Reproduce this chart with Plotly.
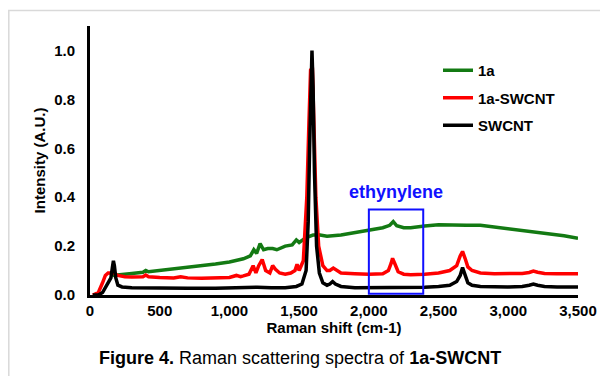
import plotly.graph_objects as go

# ---------------- data ----------------
swcnt_x = [20, 60, 90, 110, 130, 150, 160, 168, 175, 185, 200, 230, 300, 500, 700, 900, 1000, 1100,
           1200, 1300, 1400, 1480, 1520, 1550, 1565, 1575, 1585, 1592, 1600, 1610, 1625, 1645, 1670,
           1700, 1720, 1740, 1760, 1800, 1900, 2000, 2200, 2400, 2500, 2580, 2630, 2655, 2672, 2690,
           2710, 2740, 2800, 3000, 3100, 3150, 3180, 3210, 3260, 3350, 3500]
swcnt_y = [0.0, 0.0, 0.01, 0.03, 0.045, 0.07, 0.11, 0.14, 0.12, 0.07, 0.04, 0.033, 0.03, 0.028, 0.028,
           0.028, 0.03, 0.03, 0.032, 0.03, 0.03, 0.035, 0.045, 0.10, 0.3, 0.6, 0.9, 1.0, 0.85, 0.5, 0.2,
           0.09, 0.05, 0.04, 0.045, 0.055, 0.045, 0.035, 0.03, 0.03, 0.03, 0.032, 0.035, 0.04, 0.055,
           0.08, 0.112, 0.08, 0.05, 0.04, 0.035, 0.033, 0.035, 0.04, 0.045, 0.04, 0.035, 0.033, 0.033]

red_x = [20, 60, 90, 110, 130, 150, 170, 200, 250, 300, 380, 400, 420, 500, 600, 650, 700, 800, 900,
         1000, 1050, 1080, 1100, 1140, 1170, 1190, 1210, 1235, 1260, 1290, 1310, 1330, 1360, 1400,
         1440, 1470, 1485, 1500, 1530, 1555, 1570, 1582, 1595, 1605, 1620, 1640, 1670, 1700, 1720,
         1745, 1770, 1800, 1900, 2000, 2100, 2140, 2160, 2170, 2185, 2210, 2250, 2300, 2400, 2500,
         2580, 2630, 2655, 2672, 2690, 2710, 2740, 2800, 2900, 3000, 3100, 3150, 3180, 3210, 3260,
         3350, 3500]
red_y = [0.0, 0.01, 0.05, 0.08, 0.09, 0.09, 0.09, 0.08, 0.075, 0.074, 0.075, 0.082, 0.075, 0.072, 0.07,
         0.075, 0.07, 0.068, 0.07, 0.072, 0.08, 0.075, 0.078, 0.085, 0.12, 0.09, 0.12, 0.145, 0.1, 0.09,
         0.12, 0.105, 0.09, 0.085, 0.09, 0.1, 0.125, 0.1, 0.14, 0.4, 0.7, 0.92, 0.93, 0.75, 0.4, 0.2,
         0.12, 0.1, 0.1, 0.11, 0.1, 0.09, 0.087, 0.085, 0.087, 0.1, 0.13, 0.15, 0.13, 0.095, 0.085,
         0.083, 0.085, 0.09, 0.1, 0.12, 0.16, 0.178, 0.15, 0.115, 0.1, 0.09, 0.087, 0.087, 0.088,
         0.092, 0.098, 0.093, 0.088, 0.087, 0.087]

green_x = [160, 200, 300, 380, 400, 420, 500, 600, 700, 800, 900, 1000, 1100, 1150, 1175, 1195, 1220,
           1245, 1275, 1310, 1340, 1400, 1450, 1480, 1500, 1550, 1600, 1650, 1700, 1800, 1900, 2000,
           2100, 2150, 2175, 2200, 2250, 2300, 2350, 2400, 2500, 2600, 2700, 2800, 2900, 3000, 3100,
           3200, 3300, 3400, 3500]
green_y = [0.08, 0.083, 0.088, 0.093, 0.1, 0.095, 0.1, 0.107, 0.113, 0.12, 0.127, 0.135, 0.148, 0.16,
           0.185, 0.17, 0.21, 0.185, 0.19, 0.19, 0.185, 0.2, 0.205, 0.225, 0.215, 0.235, 0.245, 0.245,
           0.24, 0.245, 0.255, 0.263, 0.275, 0.285, 0.3, 0.283, 0.275, 0.275, 0.28, 0.282, 0.287, 0.285,
           0.285, 0.285, 0.278, 0.272, 0.265, 0.255, 0.248, 0.242, 0.232]

series_names = ["1a", "1a-SWCNT", "SWCNT"]
x_ticks = [0, 500, 1000, 1500, 2000, 2500, 3000, 3500]
y_ticks = [0.0, 0.2, 0.4, 0.6, 0.8, 1.0]
box_x = [2000, 2390]
box_y = [0.005, 0.35]

FONT = "Arial, Liberation Sans, sans-serif"

# layout geometry (page body has an 8px margin; window coords are converted)
OFF = 8
W, H = 600, 368
L, R, T, B = 82, 30, 18, 81
PW, PH = W - L - R, H - T - B


def px_x(p):
    return (p - OFF - L) / PW


def px_y(p):
    return (H - B - (p - OFF)) / PH


fig = go.Figure()
colors = ["#137a13", "#ff0000", "#000000"]
for name, xs, ys, c in zip(series_names, [green_x, red_x, swcnt_x], [green_y, red_y, swcnt_y], colors):
    fig.add_trace(go.Scatter(x=xs, y=ys, mode="lines", name=name, legendgroup=name,
                             line=dict(color=c, width=3.5)))

fig.update_layout(
    width=W, height=H,
    margin=dict(l=L, r=R, t=T, b=B),
    paper_bgcolor="white", plot_bgcolor="white",
    font=dict(family=FONT, size=15, color="black"),
    showlegend=True,
    legend=dict(x=px_x(438), y=px_y(54), xanchor="left", yanchor="top",
                bgcolor="rgba(0,0,0,0)", tracegroupgap=5,
                font=dict(family=FONT, size=15, color="black", weight="bold")),
    xaxis=dict(range=[0, 3500], tickvals=x_ticks, tickformat=",", showgrid=False, zeroline=False,
               showline=True, linecolor="black", linewidth=3, ticks="",
               tickfont=dict(family=FONT, size=15, weight="bold"),
               title=dict(text="Raman shift (cm-1)", standoff=4,
                          font=dict(family=FONT, size=15, weight="bold"))),
    yaxis=dict(range=[0, 1.1], tickvals=y_ticks, tickformat=".1f", showgrid=False, zeroline=False,
               showline=True, linecolor="black", linewidth=3, ticks="", ticklabelstandoff=9,
               tickfont=dict(family=FONT, size=15, weight="bold"),
               title=dict(text="Intensity (A.U.)", standoff=5,
                          font=dict(family=FONT, size=15, weight="bold"))),
)

# outer light grey frame
fig.add_shape(type="rect", xref="paper", yref="paper",
              x0=px_x(8.8), x1=px_x(640), y0=px_y(420), y1=px_y(10.5),
              line=dict(color="#d9d9d9", width=1.5), layer="below")

# highlight box
fig.add_shape(type="rect", xref="x", yref="y", x0=box_x[0], x1=box_x[1], y0=box_y[0], y1=box_y[1],
              line=dict(color="#1010ff", width=2))

fig.add_annotation(x=2195, y=0.35, xref="x", yref="y", yanchor="bottom", yshift=5,
                   text="<b>ethynylene</b>", showarrow=False,
                   font=dict(family=FONT, size=18, color="#1010ff"))

fig.add_annotation(x=px_x(300), y=px_y(358), xref="paper", yref="paper",
                   xanchor="center", yanchor="middle", showarrow=False,
                   text="<b>Figure 4.</b> Raman scattering spectra of <b>1a-SWCNT</b>",
                   font=dict(family=FONT, size=18, color="black"))

fig.write_html("out.html")
